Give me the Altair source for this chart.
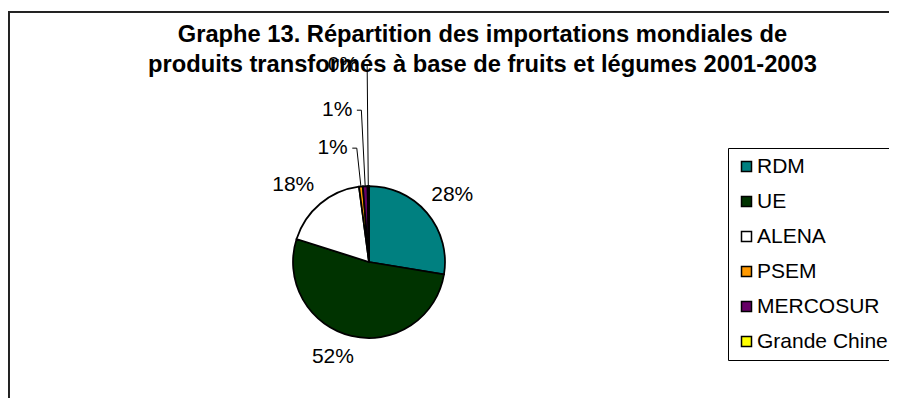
import math
import altair as alt
import pandas as pd

# ---- data ----
categories = ["RDM", "UE", "ALENA", "PSEM", "MERCOSUR", "Grande Chine"]
shares = [27.6, 52.3, 18.0, 0.8, 1.0, 0.3]
colors = ["#008080", "#003300", "#FFFFFF", "#FF9900", "#660066", "#FFFF00"]
title_lines = [
    "Graphe 13. Répartition des importations mondiales de",
    "produits transformés à base de fruits et légumes 2001-2003",
]

# ---- layout ----
W, H = 881, 390
CX, CY = 361, 254          # pie centre (px inside the chart)
R = 76                     # pie radius
label_r = [107, 102, 108, 114.5, 152, 197]
label_shift = [1.4, 7.2, -4.6, 0.0, 0.0, 0.0]
FONT = "Liberation Sans"

total = sum(shares)
slices = pd.DataFrame({"cat": categories, "share": shares, "idx": list(range(len(categories)))})

big_rows, small_rows, lead_rows = [], [], []
cum = 0.0
for i, (c, v) in enumerate(zip(categories, shares)):
    mid = (cum + v / 2) / total * 360.0
    cum += v
    a = math.radians(mid + label_shift[i])
    lx, ly = label_r[i] * math.sin(a), label_r[i] * math.cos(a)
    txt = f"{round(v / total * 100)}%"
    if v >= 2:
        big_rows.append({"x": lx, "y": ly, "text": txt})
    else:
        ex, ey = R * math.sin(a), R * math.cos(a)
        lead_rows.append({"x": ex, "y": ey, "x2": lx, "y2": ly})
        lead_rows.append({"x": lx, "y": ly, "x2": lx - 4.5, "y2": ly})
        small_rows.append({"x": lx, "y": ly, "text": txt})

big = pd.DataFrame(big_rows)
small = pd.DataFrame(small_rows)
leads = pd.DataFrame(lead_rows)

xs = alt.Scale(domain=[-CX, W - CX], nice=False, zero=False)
ys = alt.Scale(domain=[CY - H, CY], nice=False, zero=False)

pie = alt.Chart(slices).mark_arc(radius=R, stroke="black", strokeWidth=1.75).encode(
    theta=alt.Theta("share:Q", stack=True),
    order=alt.Order("idx:Q"),
    color=alt.Color(
        "cat:N",
        scale=alt.Scale(domain=categories, range=colors),
        legend=alt.Legend(
            orient="none", legendX=720, legendY=140, title=None,
            strokeColor="black", fillColor="white", padding=8,
            symbolType="square", symbolSize=100, symbolStrokeColor="black",
            symbolStrokeWidth=1.5, symbolOpacity=1,
            labelFont=FONT, labelFontSize=21, labelColor="black",
            labelOffset=0, rowPadding=13, labelLimit=300,
        ),
    ),
    x=alt.value(CX),
    y=alt.value(CY),
)

lead_lines = alt.Chart(leads).mark_rule(color="black", strokeWidth=1).encode(
    x=alt.X("x:Q", scale=xs, axis=None),
    y=alt.Y("y:Q", scale=ys, axis=None),
    x2="x2:Q",
    y2="y2:Q",
)

big_labels = alt.Chart(big).mark_text(
    font=FONT, fontSize=21, color="black", align="center", baseline="middle"
).encode(
    x=alt.X("x:Q", scale=xs, axis=None),
    y=alt.Y("y:Q", scale=ys, axis=None),
    text="text:N",
)

small_labels = alt.Chart(small).mark_text(
    font=FONT, fontSize=21, color="black", align="right", baseline="middle", dx=-9
).encode(
    x=alt.X("x:Q", scale=xs, axis=None),
    y=alt.Y("y:Q", scale=ys, axis=None),
    text="text:N",
)

border_left = alt.Chart(slices).mark_rule(color="#222", strokeWidth=1.5).encode(
    x=alt.value(0.75), y=alt.value(3), y2=alt.value(H)
)
border_top = alt.Chart(slices).mark_rule(color="#222", strokeWidth=1.5).encode(
    x=alt.value(0), x2=alt.value(W), y=alt.value(3.75)
)

chart = alt.layer(
    border_left, border_top, pie, lead_lines, big_labels, small_labels
).properties(
    width=W,
    height=H,
    padding=0,
    autosize="none",
    title=alt.TitleParams(
        text=title_lines, font=FONT, fontSize=23.7, fontWeight="bold", color="black",
        anchor="middle", frame="group", dx=34, dy=88, offset=0,
        baseline="alphabetic", lineHeight=30,
    ),
).configure(background="white", view=alt.ViewConfig(stroke=None))

chart.save("out.html", embed_options={"renderer": "svg", "actions": False})
